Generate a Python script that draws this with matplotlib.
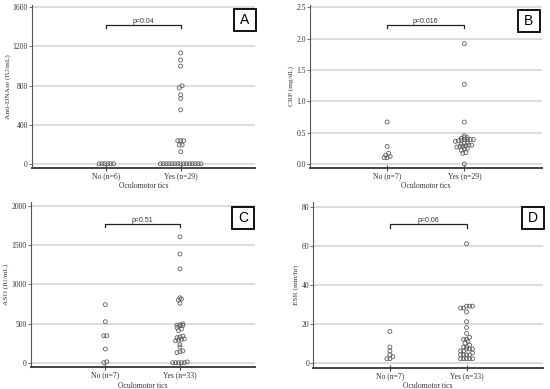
import numpy as np
import matplotlib.pyplot as plt
from matplotlib.patches import Rectangle

# group labels
groups = ['No', 'Yes']
xlabel = 'Oculomotor tics'

# panel A - anti-DNAse B
dnase_no = [0, 0, 0, 0, 0, 0]
dnase_yes = [1133, 1061, 999, 797, 777, 705, 667, 551,
             236, 236, 236, 192, 192, 123,
             0, 0, 0, 0, 0, 0, 0, 0, 0, 0, 0, 0, 0, 0, 0]

# panel B - CRP
crp_no = [0.67, 0.28, 0.17, 0.14, 0.12, 0.10, 0.10]
crp_yes = [1.92, 1.27, 0.67, 0.45, 0.42, 0.42, 0.41, 0.39, 0.39, 0.39,
           0.39, 0.38, 0.37, 0.36, 0.34, 0.33, 0.31, 0.30, 0.30, 0.29,
           0.28, 0.28, 0.27, 0.25, 0.24, 0.22, 0.18, 0.17, 0.00]

# panel C - ASO
aso_no = [742, 524, 345, 345, 175, 0, 12]
aso_yes = [1610, 1390, 1200, 830, 815, 800, 760,
           495, 485, 480, 475, 470, 450, 430, 410,
           340, 330, 320, 305, 300, 290, 280,
           230, 200, 150, 140, 130,
           0, 0, 0, 0, 0, 10]

# panel D - ESR
esr_no = [16, 8, 6, 4, 3, 2, 2]
esr_yes = [61, 29, 29, 29, 28, 28, 26, 21, 18, 15, 13, 12, 12, 11, 10, 9,
           8, 8, 7, 7, 7, 6, 6, 5, 4, 4, 4, 4, 2, 2, 2, 2, 2]

panels = [
    dict(no=dnase_no, yes=dnase_yes, ylabel='Anti-DNAse (IU/mL)',
         ticks=[0, 400, 800, 1200, 1600], tlabels=['0', '400', '800', '1200', '1600'],
         ylim=(-44, 1623), tol=30, p='p=0.04', pline=1418, pdrop=28, letter='A',
         rect=[0.0582, 0.568, 0.4055, 0.419], box=(0.953, 0.911)),
    dict(no=crp_no, yes=crp_yes, ylabel='CRP (mg/dL)',
         ticks=[0, 0.5, 1.0, 1.5, 2.0, 2.5], tlabels=['0.0', '0.5', '1.0', '1.5', '2.0', '2.5'],
         ylim=(-0.059, 2.537), tol=0.035, p='p=0.016', pline=2.22, pdrop=0.05, letter='B',
         rect=[0.5636, 0.569, 0.421, 0.418], box=(0.945, 0.90)),
    dict(no=aso_no, yes=aso_yes, ylabel='ASO (IU/mL)',
         ticks=[0, 500, 1000, 1500, 2000], tlabels=['0', '500', '1000', '1500', '2000'],
         ylim=(-59, 2059), tol=25, p='p=0.51', pline=1774, pdrop=45, letter='C',
         rect=[0.0558, 0.0558, 0.407, 0.4257], box=(0.95, 0.899)),
    dict(no=esr_no, yes=esr_yes, ylabel='ESR (mm/hr)',
         ticks=[0, 20, 40, 60, 80], tlabels=['0', '20', '40', '60', '80'],
         ylim=(-2.6, 82.6), tol=1.1, p='p=0.06', pline=71.1, pdrop=1.8, letter='D',
         rect=[0.5696, 0.0548, 0.418, 0.4267], box=(0.957, 0.90)),
]

serif = ['Liberation Serif', 'DejaVu Serif']
sans = ['Liberation Sans', 'DejaVu Sans']


def dot_offsets(vals, tol, dx):
    # simple dot plot: close values share a row, spread out around the centre
    vals = np.asarray(vals, dtype=float)
    order = np.argsort(vals)
    offs = np.zeros(len(vals))
    rows = []
    for i in order:
        if rows and vals[i] - vals[rows[-1][0]] <= tol:
            rows[-1].append(i)
        else:
            rows.append([i])
    for row in rows:
        n = len(row)
        for k, i in enumerate(row):
            offs[i] = (k - (n - 1) / 2) * dx
    return offs


fig = plt.figure(figsize=(5.5, 3.89), dpi=100)

for pan in panels:
    ax = fig.add_axes(pan['rect'])
    for xi, vals in zip([1, 2], [pan['no'], pan['yes']]):
        offs = dot_offsets(vals, pan['tol'], 0.039)
        ax.scatter(xi + offs, vals, s=8, facecolors='none', edgecolors='#606060',
                   linewidths=0.6, zorder=3)

    ax.set_xlim(0, 3)
    ax.set_ylim(*pan['ylim'])
    ax.set_yticks(pan['ticks'])
    ax.set_yticklabels(pan['tlabels'], family=serif, fontsize=5.5, color='#333333')
    n_no = len(pan['no'])
    n_yes = len(pan['yes'])
    ax.set_xticks([1, 2])
    ax.set_xticklabels(['%s (n=%d)' % (groups[0], n_no), '%s (n=%d)' % (groups[1], n_yes)],
                       family=serif, fontsize=5.5, color='#333333')
    ax.set_xlabel(xlabel, family=serif, fontsize=5.5, color='#333333', labelpad=1.5)
    ax.set_ylabel(pan['ylabel'], family=serif, fontsize=5.3, color='#333333', labelpad=1.5)

    ax.grid(axis='y', color='#d6d6d6', linewidth=1.2, zorder=0)
    ax.set_axisbelow(True)
    for s in ['top', 'right']:
        ax.spines[s].set_visible(False)
    ax.spines['left'].set_color('#555555')
    ax.spines['left'].set_linewidth(0.8)
    ax.spines['bottom'].set_color('#444444')
    ax.spines['bottom'].set_linewidth(1.4)
    ax.tick_params(axis='y', length=2, width=0.6, color='#555555', pad=1)
    ax.tick_params(axis='x', direction='inout', length=5, width=0.8, color='#444444', pad=0.5)

    # significance bracket
    y0 = pan['pline']
    ax.plot([1, 1, 2, 2], [y0 - pan['pdrop'], y0, y0, y0 - pan['pdrop']],
            color='#222222', linewidth=0.9)
    ax.text(1.5, y0, pan['p'], ha='center', va='bottom', family=sans,
            fontsize=5, color='#333333')

    # panel letter in a box
    pos = ax.get_position()
    bw = 22 / (550 * pos.width)
    bh = 22 / (389 * pos.height)
    bx, by = pan['box']
    ax.add_patch(Rectangle((bx - bw / 2, by - bh / 2), bw, bh, transform=ax.transAxes,
                           facecolor='white', edgecolor='black', linewidth=1.3,
                           clip_on=False, zorder=5))
    ax.text(bx, by, pan['letter'], transform=ax.transAxes, ha='center', va='center',
            family=sans, fontsize=10, zorder=6)

fig.savefig('out.png', dpi=100)
